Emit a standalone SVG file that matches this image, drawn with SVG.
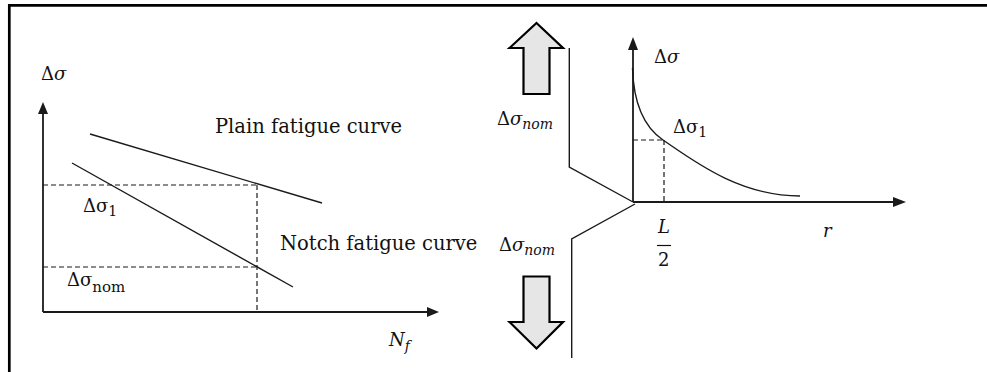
<svg xmlns="http://www.w3.org/2000/svg" width="987" height="372" viewBox="0 0 987 372">
<style>
.ln{fill:none;stroke:#1a1a1a;stroke-width:1.4}
.ax{fill:none;stroke:#1a1a1a;stroke-width:1.8}
.ds{fill:none;stroke:#1a1a1a;stroke-width:1.2;stroke-dasharray:5 3}
.hd{fill:#1a1a1a;stroke:none}
.blk{fill:#e6e6e6;stroke:#000;stroke-width:2.2;stroke-linejoin:miter}
.t{font-family:"DejaVu Serif","Liberation Serif",serif;fill:#111}
.big{font-size:19.5px}
.m{font-size:18px}
.s{font-size:14px}
.i{font-style:italic}
</style>
<rect width="987" height="372" fill="#fff"/>
<g id="frame">
<path d="M9.3,372 V5.3 H987" fill="none" stroke="#000" stroke-width="2.7"/>
</g>
<g id="left-chart">
<g id="left-axes">
<path class="ax" d="M43,312 V112"/>
<polygon class="hd" points="43,102 38,114 48,114"/>
<path class="ax" d="M43,312 H428"/>
<polygon class="hd" points="439,312 427,307 427,317"/>
</g>
<g id="plain-curve">
<path class="ln" d="M90,134 L322,203"/>
</g>
<g id="notch-curve">
<path class="ln" d="M72,163 L293,287"/>
</g>
<g id="left-dashes">
<path class="ds" d="M43,185 H257 M43,267 H257 M257,185 V312"/>
</g>
<text class="t m" x="41" y="80">Δ<tspan class="i">σ</tspan></text>
<text class="t big" x="215" y="133">Plain fatigue curve</text>
<text class="t big" x="280" y="250">Notch fatigue curve</text>
<text class="t m" x="83" y="212">Δσ<tspan class="s" dy="4">1</tspan></text>
<text class="t m" x="67" y="286">Δσ<tspan class="s" dy="6" style="font-size:15px">nom</tspan></text>
<text class="t m i" x="389" y="346">N<tspan class="s" dy="5">f</tspan></text>
</g>
<g id="right-chart">
<g id="up-arrow">
<polygon class="blk" points="536.5,23 563,48 549.5,48 549.5,94 523.5,94 523.5,48 509.5,48"/>
</g>
<g id="down-arrow">
<polygon class="blk" points="523.5,276.5 549.5,276.5 549.5,322 563,322 536.5,348.5 509.5,322 523.5,322"/>
</g>
<g id="notch-profile">
<path class="ln" d="M569.3,48 V167 L633,202"/>
<path class="ln" d="M635,204 L571.7,239 V358"/>
</g>
<g id="right-axes">
<path class="ax" d="M633,202 V48"/>
<polygon class="hd" points="633,37 628,50 638,50"/>
<path class="ax" d="M633,202 H894"/>
<polygon class="hd" points="906,202 893,197 893,207"/>
</g>
<g id="stress-curve">
<path class="ln" d="M632.5,68 C633.5,103 644,127 663,140 C695,162 740,196 800,196"/>
</g>
<g id="right-dashes">
<path class="ds" d="M633,140 H663 M664,140 V202"/>
</g>
<text class="t m" x="654" y="63">Δ<tspan class="i">σ</tspan></text>
<text class="t m" x="673" y="133">Δσ<tspan class="s" dy="4">1</tspan></text>
<text class="t m" x="497" y="125">Δ<tspan class="i">σ</tspan><tspan class="s i" dy="4">nom</tspan></text>
<text class="t m" x="499" y="251">Δ<tspan class="i">σ</tspan><tspan class="s i" dy="4">nom</tspan></text>
<text class="t m i" x="658" y="233">L</text>
<path d="M657,245.5 H671" stroke="#111" stroke-width="1.2"/>
<text class="t m" x="658" y="266">2</text>
<text class="t m i" x="823" y="237">r</text>
</g>
</svg>
